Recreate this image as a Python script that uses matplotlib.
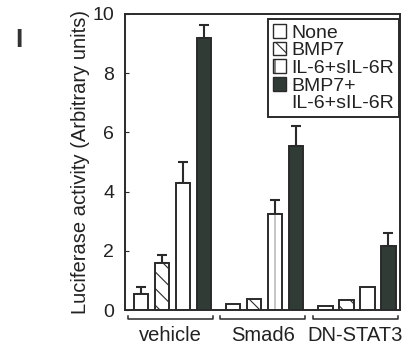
import matplotlib
matplotlib.use("Agg")
import matplotlib.pyplot as plt
from matplotlib.patches import Patch
import numpy as np

plt.rcParams['font.family'] = ['Liberation Sans', 'DejaVu Sans']
plt.rcParams['hatch.linewidth'] = 0.8

# data
groups = ['vehicle', 'Smad6', 'DN-STAT3']
treatments = ['None', 'BMP7', 'IL-6+sIL-6R', 'BMP7+\nIL-6+sIL-6R']
values = {
    'None':        [0.55, 0.20, 0.15],
    'BMP7':        [1.60, 0.38, 0.35],
    'IL-6+sIL-6R': [4.30, 3.25, 0.78],
    'BMP7+\nIL-6+sIL-6R': [9.20, 5.55, 2.15],
}
errors = {
    'None':        [0.22, 0.0, 0.0],
    'BMP7':        [0.25, 0.0, 0.0],
    'IL-6+sIL-6R': [0.70, 0.45, 0.0],
    'BMP7+\nIL-6+sIL-6R': [0.42, 0.65, 0.45],
}
yticks = [0, 2, 4, 6, 8, 10]

edge = '#2a2a2a'
dark = '#2f3b34'
styles = {
    'None':        dict(facecolor='white', hatch=None),
    'BMP7':        dict(facecolor='white', hatch='\\\\'),
    'IL-6+sIL-6R': dict(facecolor='white', hatch='|'),
    'BMP7+\nIL-6+sIL-6R': dict(facecolor=dark, hatch=None),
}

fig = plt.figure(figsize=(4.05, 3.48), dpi=100)
ax = fig.add_axes([0.309, 0.109, 0.679, 0.851])

gap = 4.4
width = 0.68
base = np.arange(len(groups)) * gap

for i, t in enumerate(treatments):
    x = base + i
    st = styles[t]
    bars = ax.bar(x, values[t], width, color=st['facecolor'], edgecolor=edge,
                  linewidth=1.4, hatch=st['hatch'], zorder=2)
    if t == 'IL-6+sIL-6R':
        for b in bars:
            b._hatch_color = matplotlib.colors.to_rgba('#9a9a9a')
    err = np.array(errors[t])
    m = err > 0
    ax.errorbar(x[m], np.array(values[t])[m], yerr=[np.zeros(m.sum()), err[m]],
                fmt='none', ecolor=edge, elinewidth=1.5, capsize=3.5,
                capthick=1.5, zorder=1)

# group brackets under the axis
for g, name in enumerate(groups):
    x0 = base[g] - 0.6
    x1 = base[g] + 3.45
    yb = -0.3
    ax.plot([x0, x0, x1, x1], [yb + 0.1, yb, yb, yb + 0.1], color=edge,
            lw=1.1, clip_on=False)
    ax.text((x0 + x1) / 2, -0.55, name, ha='center', va='top', fontsize=14.5,
            color='#222222')

ax.set_xlim(-0.74, 12.36)
ax.set_ylim(0, 10)
ax.set_xticks([])
ax.set_yticks(yticks)
ax.tick_params(axis='y', direction='in', length=3, labelsize=14,
               colors=edge, labelcolor='#222222', pad=8)
for s in ax.spines.values():
    s.set_color(edge)
    s.set_linewidth(1.4)
ax.set_ylabel('Luciferase activity (Arbitrary units)', fontsize=14.5,
              color='#222222', labelpad=2)

handles = [Patch(facecolor=styles[t]['facecolor'], edgecolor=edge,
                 hatch=styles[t]['hatch'], linewidth=1.0) for t in treatments]
handles.append(Patch(facecolor='none', edgecolor='none'))
labels = ['None', 'BMP7', 'IL-6+sIL-6R', 'BMP7+', 'IL-6+sIL-6R']
leg = ax.legend(handles, labels, loc='upper right', bbox_to_anchor=(0.995, 0.982),
                fontsize=14, handlelength=0.7, handleheight=0.7,
                handletextpad=0.25, labelspacing=0.0, borderpad=0.25,
                borderaxespad=0.0, fancybox=False, framealpha=1)
leg.get_frame().set_edgecolor(edge)
leg.get_frame().set_linewidth(1.4)
for txt in leg.get_texts():
    txt.set_color('#222222')

fig.text(0.047, 0.885, 'I', fontsize=19, fontweight='bold', color='#333333',
         ha='center', va='center')

fig.savefig('out.png', dpi=100)
